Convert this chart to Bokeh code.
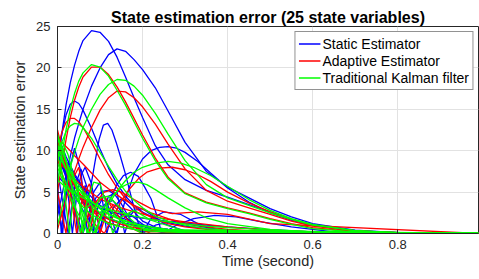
from bokeh.plotting import figure
from bokeh.models import Range1d, Legend, LegendItem, FixedTicker
from bokeh.embed import file_html
from bokeh.resources import INLINE

# ---------------- data ----------------
x_ticks = [0, 0.2, 0.4, 0.6, 0.8]
y_ticks = [0, 5, 10, 15, 20, 25]

# common time grid for the large smooth curves
T = [0, 0.01, 0.02, 0.03, 0.04, 0.05, 0.06, 0.08, 0.10, 0.12, 0.14, 0.16, 0.18,
     0.20, 0.23, 0.26, 0.30, 0.35, 0.40, 0.45, 0.50, 0.55, 0.60, 0.70, 0.80, 0.99]
blue_a = [8.0, 12.0, 15.5, 18.2, 20.3, 22.0, 23.3, 24.5, 24.3, 23.2, 21.3, 18.9, 16.4,
          14.0, 10.6, 8.3, 6.5, 5.2, 4.4, 3.5, 2.6, 1.7, 1.0, 0.3, 0.05, 0.0]
blue_b = [2.0, 4.5, 7.0, 9.3, 11.5, 13.3, 15.0, 17.8, 20.0, 21.6, 22.3, 22.0, 21.0,
          19.8, 17.6, 14.8, 11.0, 7.5, 5.6, 4.3, 3.0, 2.0, 1.2, 0.4, 0.1, 0.0]
blue_c = [9.0, 12.0, 14.3, 15.6, 16.0, 15.7, 14.9, 12.7, 10.2, 7.9, 6.0, 4.5, 3.4,
          2.6, 1.8, 1.3, 0.9, 0.6, 0.4, 0.3, 0.2, 0.15, 0.1, 0.05, 0.02, 0.0]
red_a = [5.0, 8.3, 11.3, 14.0, 16.1, 17.7, 18.9, 20.1, 20.1, 19.2, 17.7, 15.9, 13.9,
         11.9, 9.1, 6.8, 4.9, 3.8, 3.1, 2.5, 1.8, 1.2, 0.7, 0.2, 0.05, 0.0]
red_b = [0.5, 2.3, 4.1, 5.9, 7.5, 9.0, 10.4, 12.8, 14.9, 16.4, 17.2, 17.1, 16.4,
         15.3, 13.2, 10.8, 7.8, 5.2, 3.9, 3.1, 2.3, 1.5, 0.9, 0.3, 0.1, 0.0]
red_c = [10.0, 12.2, 13.4, 13.9, 13.9, 13.5, 12.8, 11.0, 9.0, 7.1, 5.5, 4.2, 3.2,
         2.5, 1.7, 1.2, 0.8, 0.5, 0.3, 0.2, 0.1, 0.05, 0.0, 0.0, 0.0, 0.0]
green_a = [6.0, 9.5, 12.5, 15.0, 16.9, 18.4, 19.4, 20.4, 20.1, 19.0, 17.3, 15.5, 13.5,
           11.5, 8.8, 6.6, 4.8, 3.7, 3.0, 2.4, 1.7, 1.1, 0.6, 0.2, 0.05, 0.0]
green_b = [1.0, 3.0, 5.5, 8.0, 9.8, 11.4, 12.8, 15.0, 16.8, 18.0, 18.6, 18.5, 17.8,
           16.7, 14.5, 12.0, 8.8, 5.9, 4.3, 3.4, 2.5, 1.7, 1.0, 0.35, 0.1, 0.0]
green_c = [9.0, 11.0, 12.3, 13.0, 13.3, 13.2, 12.8, 11.5, 9.8, 8.1, 6.5, 5.1, 4.0,
           3.1, 2.1, 1.5, 1.0, 0.6, 0.4, 0.25, 0.15, 0.1, 0.05, 0.0, 0.0, 0.0]

# humps and oscillating curves
blue_d_t = [0, 0.01, 0.02, 0.03, 0.04, 0.05, 0.058, 0.068, 0.078, 0.088, 0.098, 0.108, 0.118,
            0.128, 0.138, 0.148, 0.158, 0.168, 0.178, 0.188, 0.198, 0.22, 0.25, 0.29, 0.33, 0.38, 0.99]
blue_d = [11.0, 9.5, 7.5, 5.2, 3.0, 0.9, 0.0, 2.8, 5.6, 8.6, 11.4, 13.1, 13.3,
          12.5, 11.0, 9.3, 7.5, 5.5, 3.5, 1.6, 0.0, 1.8, 2.6, 2.3, 1.2, 0.3, 0.0]
blue_e_t = [0, 0.02, 0.04, 0.06, 0.08, 0.10, 0.12, 0.14, 0.15, 0.16, 0.18, 0.20, 0.22, 0.24,
            0.26, 0.28, 0.30, 0.33, 0.36, 0.40, 0.45, 0.50, 0.55, 0.60, 0.70, 0.80, 0.99]
blue_e = [10.5, 8.8, 7.0, 5.3, 3.7, 2.3, 1.0, 0.0, 2.2, 4.2, 7.2, 9.0, 10.0, 10.4,
          10.5, 10.3, 9.8, 8.7, 7.3, 5.5, 3.8, 2.5, 1.6, 1.0, 0.3, 0.1, 0.0]
blue_f_t = [0, 0.02, 0.04, 0.06, 0.08, 0.095, 0.11, 0.125, 0.14, 0.155, 0.172, 0.19, 0.205,
            0.22, 0.235, 0.245, 0.28, 0.32, 0.37, 0.42, 0.48, 0.55, 0.65, 0.80, 0.99]
blue_f = [9.5, 6.8, 4.6, 2.8, 1.2, 0.0, 2.3, 4.3, 5.9, 7.0, 7.4, 6.9, 5.6,
          4.2, 2.0, 0.0, 1.0, 1.8, 2.2, 2.0, 1.4, 0.8, 0.2, 0.02, 0.0]
blue_j_t = [0, 0.015, 0.03, 0.045, 0.06, 0.075, 0.09, 0.105, 0.12, 0.135,
            0.15, 0.165, 0.18, 0.20, 0.23, 0.27, 0.32, 0.40, 0.99]
blue_j = [11.0, 8.0, 5.0, 2.2, 0.0, 2.6, 4.3, 5.1, 5.2, 4.7,
          3.6, 2.2, 0.9, 0.0, 1.0, 1.5, 1.0, 0.3, 0.0]
blue_k_t = [0, 0.005, 0.009, 0.02, 0.03, 0.04, 0.047, 0.055, 0.065, 0.075,
            0.083, 0.095, 0.11, 0.125, 0.137, 0.15, 0.17, 0.19, 0.22, 0.26, 0.99]
blue_k = [6.0, 3.0, 0.0, 5.5, 7.8, 4.5, 0.0, 3.5, 5.8, 3.2,
          0.0, 3.2, 4.6, 2.5, 0.0, 1.6, 2.4, 1.5, 0.4, 0.0, 0.0]
blue_l_t = [0, 0.01, 0.02, 0.035, 0.045, 0.055, 0.065, 0.08, 0.1, 0.11,
            0.12, 0.14, 0.158, 0.17, 0.18, 0.2, 0.25, 0.3, 0.99]
blue_l = [12.0, 10.5, 7.0, 0.0, 4.5, 7.0, 8.0, 6.0, 0.0, 3.0,
          4.5, 5.0, 0.0, 2.0, 2.8, 3.0, 1.2, 0.3, 0.0]
blue_m_t = [0, 0.006, 0.012, 0.025, 0.04, 0.055, 0.07, 0.085, 0.1, 0.116,
            0.13, 0.15, 0.17, 0.2, 0.25, 0.3, 0.99]
blue_m = [4.0, 2.0, 0.0, 7.0, 10.3, 7.5, 0.0, 5.0, 6.2, 0.0,
          3.0, 4.2, 3.2, 1.5, 0.3, 0.0, 0.0]
blue_n_t = [0, 0.01, 0.025, 0.04, 0.055, 0.07, 0.09, 0.11, 0.13, 0.16, 0.2, 0.99]
blue_n = [7.5, 4.5, 0.0, 5.5, 7.8, 5.5, 0.0, 3.5, 4.0, 2.0, 0.3, 0.0]

red_h_t = [0, 0.03, 0.06, 0.09, 0.11, 0.13, 0.15, 0.17, 0.19, 0.21, 0.24, 0.27,
           0.30, 0.33, 0.36, 0.40, 0.45, 0.50, 0.55, 0.60, 0.70, 0.80, 0.99]
red_h = [11.5, 7.0, 3.6, 1.0, 0.0, 2.0, 3.9, 5.4, 6.6, 7.4, 7.9, 8.0,
         7.7, 7.1, 6.3, 5.0, 3.7, 2.6, 1.7, 1.0, 0.3, 0.1, 0.0]
red_p_t = [0, 0.015, 0.03, 0.045, 0.06, 0.075, 0.09, 0.1, 0.115, 0.13, 0.15, 0.18, 0.22, 0.99]
red_p = [11.0, 9.5, 5.0, 0.0, 4.5, 6.0, 3.2, 0.0, 2.5, 3.4, 2.4, 0.9, 0.0, 0.0]
red_q_t = [0, 0.01, 0.02, 0.035, 0.05, 0.065, 0.075, 0.09, 0.11, 0.13, 0.16, 0.2, 0.99]
red_q = [5.0, 2.5, 0.0, 6.5, 8.0, 4.0, 0.0, 3.5, 4.5, 3.0, 1.0, 0.0, 0.0]
red_s_t = [0, 0.02, 0.04, 0.055, 0.07, 0.09, 0.11, 0.13, 0.15, 0.18, 0.22, 0.27, 0.33, 0.4, 0.5, 0.99]
red_s = [9.0, 5.8, 2.7, 0.0, 1.8, 3.8, 5.0, 5.3, 5.0, 4.1, 3.0, 2.4, 2.6, 2.3, 1.2, 0.0]

green_g_t = [0, 0.03, 0.06, 0.085, 0.10, 0.12, 0.14, 0.16, 0.18, 0.20, 0.23, 0.26,
             0.29, 0.32, 0.36, 0.40, 0.45, 0.50, 0.55, 0.60, 0.70, 0.80, 0.99]
green_g = [10.8, 6.2, 2.6, 0.0, 1.6, 3.5, 5.1, 6.4, 7.4, 8.0, 8.5, 8.7,
           8.5, 8.0, 7.0, 5.7, 4.1, 2.8, 1.8, 1.1, 0.35, 0.1, 0.0]
green_i_t = [0, 0.02, 0.04, 0.06, 0.075, 0.09, 0.11, 0.13, 0.15, 0.17,
             0.19, 0.21, 0.23, 0.26, 0.30, 0.35, 0.40, 0.50, 0.60, 0.99]
green_i = [8.0, 5.4, 3.2, 1.3, 0.0, 1.6, 3.3, 4.6, 5.6, 6.1,
           6.2, 5.9, 5.3, 4.3, 3.1, 1.9, 1.2, 0.5, 0.2, 0.0]
green_n_t = [0, 0.01, 0.02, 0.028, 0.038, 0.048, 0.06, 0.07, 0.08, 0.09,
             0.105, 0.12, 0.14, 0.17, 0.2, 0.99]
green_n = [9.5, 7.5, 3.5, 0.0, 4.8, 5.5, 0.0, 3.2, 3.6, 0.0,
           2.5, 3.0, 2.0, 0.8, 0.0, 0.0]
green_o_t = [0, 0.015, 0.03, 0.045, 0.054, 0.07, 0.085, 0.1, 0.115, 0.13, 0.15, 0.18, 0.22, 0.3, 0.99]
green_o = [11.5, 10.0, 6.5, 2.5, 0.0, 4.0, 6.2, 6.0, 3.5, 0.0, 2.0, 2.8, 1.6, 0.3, 0.0]
green_q_t = [0, 0.012, 0.025, 0.04, 0.055, 0.07, 0.085, 0.1, 0.12, 0.14, 0.17, 0.2, 0.99]
green_q = [10.0, 11.0, 9.5, 6.5, 3.0, 0.0, 2.8, 4.3, 4.5, 3.5, 1.8, 0.5, 0.0]

# decaying bundle
T2 = [0, 0.01, 0.02, 0.03, 0.04, 0.05, 0.06, 0.08, 0.10, 0.12, 0.15, 0.18, 0.22,
      0.26, 0.30, 0.35, 0.40, 0.50, 0.60, 0.70, 0.99]
blue_d1 = [12.0, 10.6, 9.3, 8.2, 7.2, 6.4, 5.6, 4.4, 3.4, 2.7, 1.9, 1.3, 0.8, 0.5, 0.3, 0.2, 0.1, 0.05, 0.0, 0.0, 0.0]
blue_d2 = [7.0, 6.4, 5.9, 5.4, 5.0, 4.6, 4.2, 3.6, 3.1, 2.7, 2.3, 2.0, 1.7, 1.45, 1.25, 1.0, 0.8, 0.45, 0.2, 0.05, 0.0]
blue_d3 = [10.0, 8.4, 7.1, 6.0, 5.1, 4.4, 3.8, 2.9, 2.3, 1.8, 1.3, 1.0, 0.7, 0.5, 0.35, 0.25, 0.15, 0.05, 0.0, 0.0, 0.0]
red_d1 = [11.0, 9.4, 8.0, 6.8, 5.8, 5.0, 4.3, 3.1, 2.3, 1.7, 1.1, 0.7, 0.4, 0.2, 0.1, 0.05, 0.0, 0.0, 0.0, 0.0, 0.0]
red_d2 = [9.0, 8.3, 7.7, 7.1, 6.6, 6.1, 5.7, 4.9, 4.2, 3.7, 3.1, 2.6, 2.1, 1.7, 1.4, 1.1, 0.8, 0.4, 0.2, 0.05, 0.0]
red_d3 = [12.5, 10.3, 8.5, 7.0, 5.8, 4.8, 4.0, 2.8, 1.9, 1.3, 0.8, 0.5, 0.3, 0.2, 0.1, 0.0, 0.0, 0.0, 0.0, 0.0, 0.0]
red_d4 = [11.5, 11.0, 10.5, 10.0, 9.4, 8.9, 8.4, 7.3, 6.2, 5.4, 4.3, 3.4, 2.5, 1.8, 1.2, 0.8, 0.5, 0.2, 0.05, 0.0, 0.0]
green_d1 = [10.0, 8.8, 7.8, 6.9, 6.1, 5.4, 4.8, 3.8, 3.0, 2.4, 1.7, 1.2, 0.8, 0.5, 0.3, 0.2, 0.1, 0.0, 0.0, 0.0, 0.0]
green_d2 = [8.5, 7.2, 6.1, 5.2, 4.4, 3.8, 3.2, 2.3, 1.7, 1.2, 0.8, 0.5, 0.3, 0.2, 0.1, 0.0, 0.0, 0.0, 0.0, 0.0, 0.0]
green_d3 = [11.5, 10.0, 8.7, 7.6, 6.6, 5.8, 5.1, 3.9, 3.0, 2.3, 1.6, 1.1, 0.7, 0.45, 0.3, 0.2, 0.1, 0.05, 0.0, 0.0, 0.0]
green_d4 = [6.5, 6.0, 5.6, 5.2, 4.9, 4.6, 4.3, 3.8, 3.3, 2.9, 2.5, 2.1, 1.7, 1.4, 1.15, 0.9, 0.7, 0.4, 0.2, 0.05, 0.0]
green_d5 = [12.0, 10.2, 8.7, 7.4, 6.3, 5.4, 4.6, 3.4, 2.5, 1.9, 1.3, 0.9, 0.5, 0.3, 0.2, 0.1, 0.05, 0.0, 0.0, 0.0, 0.0]

series_names = ["Static Estimator", "Adaptive Estimator", "Traditional Kalman filter"]
series_colors = ["#0000FF", "#FF0000", "#00FF00"]

blue_curves = [(T, blue_a), (T, blue_b), (T, blue_c), (blue_d_t, blue_d), (blue_e_t, blue_e),
               (blue_f_t, blue_f), (blue_j_t, blue_j), (blue_k_t, blue_k), (blue_l_t, blue_l),
               (blue_m_t, blue_m), (blue_n_t, blue_n), (T2, blue_d1), (T2, blue_d2), (T2, blue_d3)]
red_curves = [(T, red_a), (T, red_b), (T, red_c), (red_h_t, red_h), (red_p_t, red_p),
              (red_q_t, red_q), (red_s_t, red_s), (T2, red_d1), (T2, red_d2), (T2, red_d3),
              (T2, red_d4)]
green_curves = [(T, green_a), (T, green_b), (T, green_c), (green_g_t, green_g), (green_i_t, green_i),
                (green_n_t, green_n), (green_o_t, green_o), (green_q_t, green_q), (T2, green_d1),
                (T2, green_d2), (T2, green_d3), (T2, green_d4), (T2, green_d5)]

# ---------------- figure ----------------
FONT = "Liberation Sans"
TXT = "#262626"

p = figure(width=479, height=279, output_backend="svg", toolbar_location=None,
           x_range=Range1d(0, 0.99), y_range=Range1d(0, 25),
           min_border_left=57, min_border_right=1, min_border_top=26, min_border_bottom=46)

p.title.text = "State estimation error (25 state variables)"
p.title.align = "center"
p.title.text_font = FONT
p.title.text_font_size = "16px"
p.title.text_font_style = "bold"
p.title.text_color = "#000000"
p.title.standoff = 2

first = []
for curves, color in zip([blue_curves, red_curves, green_curves], series_colors):
    rs = []
    for xs, ys in curves:
        rs.append(p.line(xs, ys, line_color=color, line_width=1.3))
    first.append(rs[0])

p.xaxis.ticker = FixedTicker(ticks=x_ticks)
p.yaxis.ticker = FixedTicker(ticks=y_ticks)
p.xaxis.major_label_overrides = {0: "0"}
p.xaxis.axis_label = "Time (second)"
p.yaxis.axis_label = "State estimation error"
for ax in [p.xaxis[0], p.yaxis[0]]:
    ax.axis_label_text_font = FONT
    ax.axis_label_text_font_size = "14.5px"
    ax.axis_label_text_font_style = "normal"
    ax.axis_label_text_color = TXT
    ax.major_label_text_font = FONT
    ax.major_label_text_font_size = "13px"
    ax.major_label_text_color = TXT
    ax.axis_line_color = TXT
    ax.major_tick_line_color = TXT
    ax.major_tick_in = 4
    ax.major_tick_out = 0
    ax.minor_tick_line_color = None
p.xaxis.major_label_standoff = 6
p.xaxis.axis_label_standoff = 1
p.yaxis.major_label_standoff = 7
p.yaxis.axis_label_standoff = 5

p.xgrid.grid_line_color = "#e2e2e2"
p.ygrid.grid_line_color = "#e2e2e2"
p.outline_line_color = TXT
p.outline_line_width = 1

legend = Legend(items=[LegendItem(label=n, renderers=[r]) for n, r in zip(series_names, first)],
                location="top_right")
legend.margin = 5
legend.padding = 3
legend.spacing = 0
legend.glyph_width = 22
legend.glyph_height = 17
legend.label_height = 17
legend.label_standoff = 2
legend.label_text_font = FONT
legend.label_text_font_size = "14px"
legend.label_text_color = "#000000"
legend.border_line_color = TXT
legend.border_line_width = 1
legend.background_fill_alpha = 1
p.add_layout(legend)

open("out.html", "w").write(file_html(p, INLINE))
